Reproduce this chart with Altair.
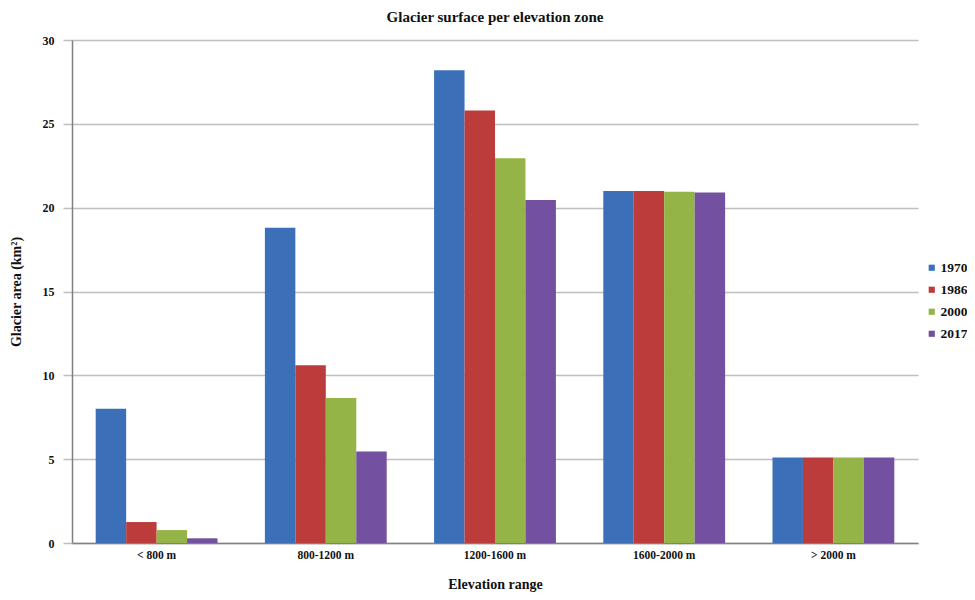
import altair as alt
import pandas as pd

zones = ["< 800 m", "800-1200 m", "1200-1600 m", "1600-2000 m", "> 2000 m"]
years = ["1970", "1986", "2000", "2017"]
v1970 = [8.0, 18.8, 28.2, 21.0, 5.1]
v1986 = [1.25, 10.6, 25.8, 21.0, 5.1]
v2000 = [0.77, 8.65, 22.95, 20.95, 5.1]
v2017 = [0.28, 5.45, 20.45, 20.9, 5.1]
colors = ["#3B70B9", "#BC3B3B", "#94B447", "#7351A0"]

rows = []
for y, vals in zip(years, [v1970, v1986, v2000, v2017]):
    for z, v in zip(zones, vals):
        rows.append({"zone": z, "year": y, "area": v})
df = pd.DataFrame(rows)

font = "Liberation Serif"

chart = alt.Chart(df).mark_bar().encode(
    x=alt.X("zone:N", sort=zones,
            scale=alt.Scale(paddingInner=0.28, paddingOuter=0.14),
            axis=alt.Axis(title="Elevation range", labelAngle=0, ticks=False,
                          labelPadding=6, titlePadding=17,
                          labelFont=font, labelFontSize=11.5, labelFontWeight="bold",
                          labelColor="#111", titleFont=font, titleFontSize=14,
                          titleFontWeight="bold", titleColor="#111",
                          domainColor="#808080", domainWidth=1.5)),
    xOffset=alt.XOffset("year:N", sort=years),
    y=alt.Y("area:Q", scale=alt.Scale(domain=[0, 30], nice=False),
            axis=alt.Axis(title="Glacier area (km²)", values=[0, 5, 10, 15, 20, 25, 30],
                          tickSize=9, tickColor="#BFBFBF", tickWidth=1.5,
                          labelPadding=9, titlePadding=19,
                          gridColor="#BFBFBF", gridWidth=1.5,
                          labelFont=font, labelFontSize=12, labelFontWeight="bold",
                          labelColor="#111", titleFont=font, titleFontSize=14,
                          titleFontWeight="bold", titleColor="#111",
                          domainColor="#808080", domainWidth=1.5)),
    color=alt.Color("year:N", sort=years,
                    scale=alt.Scale(domain=years, range=colors),
                    legend=alt.Legend(title=None, orient="none", legendX=853, legendY=221,
                                      symbolType="square", symbolSize=38,
                                      symbolStrokeWidth=0, rowPadding=7,
                                      labelFont=font, labelFontSize=13.5,
                                      labelFontWeight="bold", labelColor="#111",
                                      labelOffset=2)),
).properties(
    width=846, height=503,
    title=alt.TitleParams("Glacier surface per elevation zone", font=font,
                          fontSize=15, fontWeight="bold", color="#111",
                          anchor="middle", offset=9),
    autosize=alt.AutoSizeParams(type="none"),
    padding={"left": 64, "top": 32, "right": 49, "bottom": 50},
).configure_view(stroke=None)

chart.save("out.html", embed_options={"renderer": "svg", "actions": False})
